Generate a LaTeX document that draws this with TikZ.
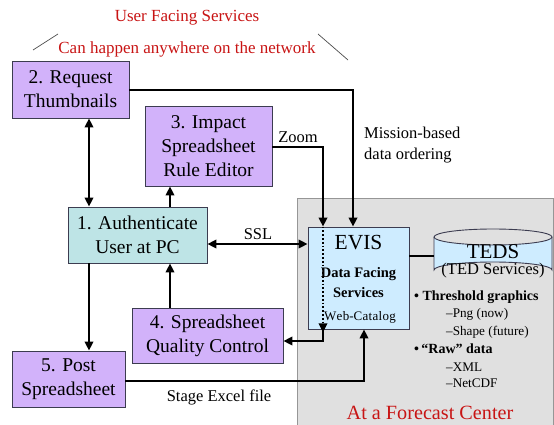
\documentclass[tikz,border=0pt]{standalone}
\usepackage{fontspec}
\setmainfont{Liberation Serif}
\usetikzlibrary{arrows.meta}
\definecolor{lilac}{RGB}{210,178,250}
\definecolor{tealbox}{RGB}{190,228,230}
\definecolor{skybox}{RGB}{206,236,255}
\definecolor{areagray}{RGB}{224,224,224}
\definecolor{edgegray}{RGB}{150,150,150}
\definecolor{redtext}{RGB}{200,20,20}
\definecolor{boxedge}{RGB}{60,60,80}
\tikzset{
  box/.style={draw=boxedge, line width=0.9pt, align=center, font=\fontsize{19.5}{24}\selectfont, inner sep=0pt},
  lilacbox/.style={box, fill=lilac},
  tealnode/.style={box, fill=tealbox},
  conn/.style={line width=2.2pt, -{Triangle[length=9pt,width=8.5pt]}},
  dconn/.style={line width=2.2pt, {Triangle[length=9pt,width=8.5pt]}-{Triangle[length=9pt,width=8.5pt]}},
  plain/.style={line width=2.2pt},
  lbl/.style={font=\fontsize{16.5}{21}\selectfont, inner sep=0pt},
  redlbl/.style={text=redtext, font=\fontsize{17}{21}\selectfont, inner sep=0pt},
  slash/.style={draw=black!70, line width=0.7pt},
  subitem/.style={anchor=west, font=\fontsize{13.2}{16}\selectfont, inner sep=0pt},
  bulitem/.style={anchor=west, font=\bfseries\fontsize{14}{17}\selectfont, inner sep=0pt}
}
\begin{document}
\begin{tikzpicture}[x=1pt,y=-1pt]
\useasboundingbox (0,0) rectangle (554,425);
% forecast center area
\fill[areagray] (297,198) rectangle (553,425);
\draw[edgegray, line width=0.8pt] (297,425) -- (297,198) -- (553,198) -- (553,425);
\node[text=redtext, font=\fontsize{20.2}{24}\selectfont, inner sep=0pt] (fc) at (430,413) {At a Forecast Center};

% titles
\node[redlbl] (ufs) at (187,18) {User Facing Services};
\node[redlbl] (chn) at (187,49) {Can happen anywhere on the network};
\coordinate (sl1) at (33,50); \coordinate (sl2) at (58,34);
\coordinate (sr1) at (318,34); \coordinate (sr2) at (348,60);
\draw[slash] (sl1) -- (sl2);
\draw[slash] (sr1) -- (sr2);

% boxes
\node[lilacbox, minimum width=117pt, minimum height=57pt] (b2) at (70.5,89.5) {2. Request\\Thumbnails};
\node[lilacbox, minimum width=127pt, minimum height=80pt] (b3) at (208.5,146) {3. Impact\\Spreadsheet\\Rule Editor};
\node[tealnode, minimum width=139pt, minimum height=56pt] (b1) at (137.5,235) {1. Authenticate\\User at PC};
\node[lilacbox, minimum width=151pt, minimum height=55pt] (b4) at (207.5,335.5) {4. Spreadsheet\\Quality Control};
\node[lilacbox, minimum width=113pt, minimum height=56pt] (b5) at (68.5,379) {5. Post\\Spreadsheet};

% EVIS
\node[draw=boxedge, line width=0.9pt, fill=skybox, minimum width=101pt, minimum height=102pt, inner sep=0pt] (evis) at (358.5,278) {};
\node[font=\fontsize{21.5}{24}\selectfont, inner sep=0pt] (evist) at (358.5,243) {EVIS};
\node[font=\bfseries\fontsize{14.5}{18}\selectfont, inner sep=0pt] (dfs1) at (358.5,274) {Data Facing};
\node[font=\bfseries\fontsize{14.5}{18}\selectfont, inner sep=0pt] (dfs2) at (358.5,293) {Services};
\node[font=\fontsize{13}{16}\selectfont, inner sep=0pt] (webc) at (360,317) {W\kern0.3pt e\kern0.3pt b-C\kern0.3pt a\kern0.3pt t\kern0.3pt a\kern0.3pt l\kern0.3pt o\kern0.3pt g};

% TEDS cylinder
\fill[skybox] (434,237) -- (434,270) arc[start angle=180, end angle=360, x radius=59, y radius=8] -- (552,237) arc[start angle=0, end angle=180, x radius=59, y radius=8];
\draw[boxedge, line width=0.9pt] (434,237) -- (434,270) arc[start angle=180, end angle=360, x radius=59, y radius=8] -- (552,237);
\draw[boxedge, line width=0.9pt] (493,237) ellipse[x radius=59, y radius=8];
\node[font=\fontsize{21}{24}\selectfont, inner sep=0pt] (tedst) at (493,252) {TEDS};
\node[font=\fontsize{16.5}{20}\selectfont, inner sep=0pt] (tedss) at (493,271) {(TED Services)};
\coordinate (tedsL) at (434,256);

% bullet list
\node[bulitem] (bl1) at (414,297) {\textbullet\ Threshold graphics};
\node[subitem] (bl2) at (446,314) {–Png (now)};
\node[subitem] (bl3) at (446,332) {–Shape (future)};
\node[bulitem] (bl4) at (414,349) {\textbullet\,“Raw” data};
\node[subitem] (bl5) at (446,367) {–XML};
\node[subitem] (bl6) at (446,383) {–NetCDF};

% helper columns / rows
\coordinate (cA) at (89,0);
\coordinate (cB) at (170,0);
\coordinate (cZ) at (323,0);
\coordinate (cM) at (353,0);
\coordinate (cS) at (364,0);
\coordinate (rM) at (0,90);
\coordinate (rZ) at (0,147);
\coordinate (rSSL) at (0,244);
\coordinate (rQ) at (0,341);
\coordinate (rS) at (0,381);
\coordinate (rT) at (0,256);
\coordinate (zc) at (323,341);

% connectors
\draw[dconn] (b2.south -| cA) -- (b1.north -| cA);
\draw[conn] (b1.south -| cA) -- (b5.north -| cA);
\draw[conn] (b1.north -| cB) -- (b3.south -| cB);
\draw[conn] (b4.north -| cB) -- (b1.south -| cB);
\draw[dconn] (b1.east |- rSSL) -- (evis.west |- rSSL);
\draw[conn] (b2.east |- rM) -| (evis.north -| cM);
\draw[conn] (b3.east |- rZ) -| (evis.north -| cZ);
\draw[line width=1.8pt, dotted, -{Triangle[length=9pt,width=8.5pt]}] (evis.north -| cZ) -- ([yshift=-3pt]evis.south -| cZ);
\draw[conn] (evis.south -| cZ) -- (zc) -- (b4.east |- rQ);
\draw[conn] (b5.east |- rS) -| (evis.south -| cS);
\draw[plain] (evis.east |- rT) -- (tedsL);

% labels
\node[lbl] (ssl) at (258,234) {SSL};
\node[lbl] (zoom) at (298,137) {Zoom};
\node[lbl, anchor=west, align=left] (mis) at (364,145.5) {Mission-based\\data ordering};
\node[lbl] (stage) at (219,397) {Stage Excel file};
\end{tikzpicture}
\end{document}
